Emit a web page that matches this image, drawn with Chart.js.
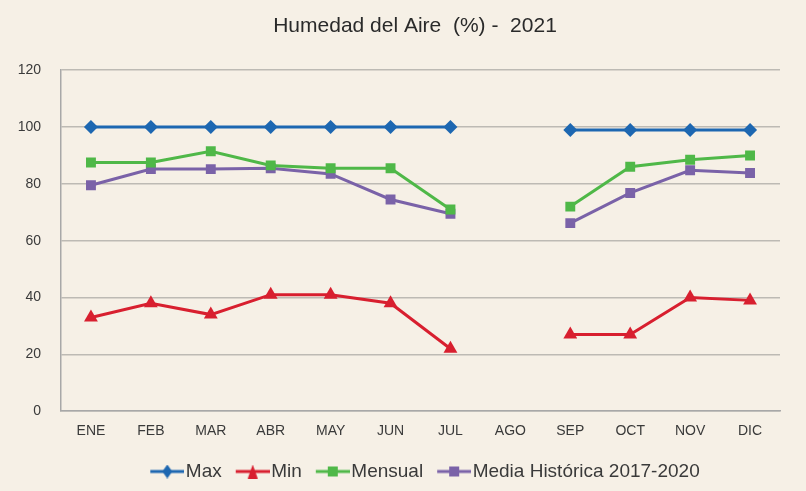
<!DOCTYPE html>
<html>
<head>
<meta charset="utf-8">
<script src="https://cdn.jsdelivr.net/npm/chart.js@4.4.0/dist/chart.umd.min.js"></script>
<style>
  html, body { margin: 0; padding: 0; background: #f6f0e6; }
  #wrap { width: 806px; height: 491px; position: relative; }
</style>
</head>
<body>
<div id="wrap"><canvas id="chart"></canvas></div>
<script>
"use strict";

var months = ['ENE', 'FEB', 'MAR', 'ABR', 'MAY', 'JUN', 'JUL', 'AGO', 'SEP', 'OCT', 'NOV', 'DIC'];
var maxValues = [100, 100, 100, 100, 100, 100, 100, null, 99, 99, 99, 99];
var minValues = [33, 38, 34, 41, 41, 38, 22, null, 27, 27, 40, 39];
var mensualValues = [87.5, 87.5, 91.5, 86.5, 85.5, 85.5, 71, null, 72, 86, 88.5, 90];
var mediaValues = [79.5, 85.2, 85.2, 85.5, 83.5, 74.5, 69.5, null, 66.2, 76.8, 84.8, 83.8];
var yTicks = [0, 20, 40, 60, 80, 100, 120];

var FONT = '"Liberation Sans", Arial, sans-serif';
var TEXT = '#3a3a3a';

// small canvas for legend: line with marker in the middle
// (transparent margin on the left so the icon sits close to its text)
function legendIcon(color, style) {
    var c = document.createElement('canvas');
    c.width = 46; c.height = 14;
    var g = c.getContext('2d');
    g.translate(12, 0);
    g.strokeStyle = color; g.fillStyle = color; g.lineWidth = 3;
    g.beginPath(); g.moveTo(0, 7); g.lineTo(34, 7); g.stroke();
    g.beginPath();
    if (style === 'diamond') {
        g.moveTo(17, 0); g.lineTo(22, 7); g.lineTo(17, 14); g.lineTo(12, 7);
    } else if (style === 'triangle') {
        g.moveTo(17, 0); g.lineTo(22, 14); g.lineTo(12, 14);
    } else {
        g.rect(12, 2, 10, 10);
    }
    g.closePath(); g.fill();
    return c;
}

function series(label, data, color, pointStyle, radius, icon) {
    return {
        label: label,
        data: data,
        borderColor: color,
        backgroundColor: color,
        borderWidth: 3,
        pointStyle: pointStyle,
        pointRadius: radius,
        pointHoverRadius: radius,
        pointBorderWidth: 0,
        spanGaps: false,
        tension: 0,
        legendIcon: legendIcon(color, icon)
    };
}

// nudge title and legend to the right like in the original
var shiftBlocks = {
    id: 'shiftBlocks',
    afterLayout: function(chart) {
        chart.titleBlock.left += 40;
        chart.legend.left += 56;
    }
};

new Chart(document.getElementById('chart'), {
    type: 'line',
    data: {
        labels: months,
        datasets: [
            series('Max', maxValues, '#1d67b1', 'rectRot', 7, 'diamond'),
            series('Min', minValues, '#d81f2f', 'triangle', 8, 'triangle'),
            series('Mensual', mensualValues, '#4fb848', 'rect', 7, 'square'),
            series('Media Histórica 2017-2020', mediaValues, '#7a62a8', 'rect', 7, 'square')
        ]
    },
    plugins: [shiftBlocks],
    options: {
        responsive: true,
        maintainAspectRatio: false,
        animation: false,
        layout: { padding: { left: 10, right: 26, top: 6, bottom: 0 } },
        plugins: {
            title: {
                display: true,
                text: 'Humedad del Aire  (%) -  2021',
                color: '#2a2a2a',
                font: { family: FONT, size: 21, weight: 'normal' },
                padding: { top: 8, bottom: 31 }
            },
            legend: {
                position: 'bottom',
                labels: {
                    usePointStyle: true,
                    pointStyleWidth: 30,
                    color: TEXT,
                    font: { family: FONT, size: 19 },
                    padding: 10,
                    generateLabels: function(chart) {
                        return chart.data.datasets.map(function(ds, i) {
                            return {
                                text: ds.label,
                                pointStyle: ds.legendIcon,
                                fillStyle: ds.borderColor,
                                strokeStyle: ds.borderColor,
                                lineWidth: 0,
                                fontColor: TEXT,
                                datasetIndex: i
                            };
                        });
                    }
                }
            },
            tooltip: { enabled: false }
        },
        scales: {
            x: {
                offset: true,
                grid: { display: false, drawTicks: false },
                border: { display: true, color: '#a8a8a8', width: 1.5 },
                ticks: { color: TEXT, font: { family: FONT, size: 14 }, padding: 12 }
            },
            y: {
                min: yTicks[0],
                max: yTicks[yTicks.length - 1],
                afterBuildTicks: function(axis) {
                    axis.ticks = yTicks.map(function(v) { return { value: v }; });
                },
                afterFit: function(axis) { axis.width = 51; },
                grid: { color: '#bdbab4', lineWidth: 1.5, drawTicks: false },
                border: { display: true, color: '#a8a8a8', width: 1.5 },
                ticks: { color: TEXT, font: { family: FONT, size: 14 }, padding: 20 }
            }
        }
    }
});
</script>
</body>
</html>
